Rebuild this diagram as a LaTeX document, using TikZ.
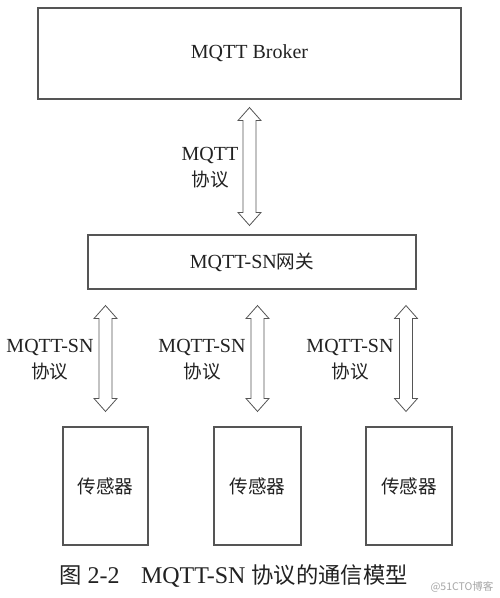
\documentclass[tikz,border=0pt]{standalone}
\usepackage{fontspec}
\setmainfont{Liberation Serif}
\newfontfamily\cjk{Noto Sans CJK SC}[Scale=0.93]
\newfontfamily\wmfont{Noto Sans CJK SC}
\usetikzlibrary{calc}
\definecolor{lc}{HTML}{555555}
\definecolor{tc}{HTML}{222222}
\tikzset{
  box/.style={draw=lc, line width=1.1pt, inner sep=0pt, text=tc, font=\fontsize{20}{24}\selectfont},
  harrow/.style={draw=lc, line width=0.8pt, fill=white, line join=miter},
  lbl/.style={align=center, text=tc, inner sep=0pt, font=\fontsize{20}{26}\selectfont},
}
\newcommand\dblarrow[2]{%
 \draw[harrow] let \p1=#1, \p2=#2 in
  (\x1,\y1) -- (\x1+11.5pt,\y1-13pt) -- (\x1+6.5pt,\y1-13pt) -- (\x1+6.5pt,\y2+13pt)
  -- (\x1+11.5pt,\y2+13pt) -- (\x1,\y2) -- (\x1-11.5pt,\y2+13pt) -- (\x1-6.5pt,\y2+13pt)
  -- (\x1-6.5pt,\y1-13pt) -- (\x1-11.5pt,\y1-13pt) -- cycle;}
\begin{document}
\begin{tikzpicture}[x=1pt,y=-1pt]
\useasboundingbox[fill=white] (0,0) rectangle (500,598);
% boxes
\node[box, minimum width=423pt, minimum height=91pt] (broker) at (249.5,53.5) {MQTT Broker};
\node[box, minimum width=328pt, minimum height=54pt] (gw) at (252,262) {MQTT-SN{\cjk 网关}};
\node[box, minimum width=85pt, minimum height=118pt] (s1) at (105.5,486) {\cjk 传感器};
\node[box, minimum width=87pt, minimum height=118pt] (s2) at (257.5,486) {\cjk 传感器};
\node[box, minimum width=86pt, minimum height=118pt] (s3) at (409,486) {\cjk 传感器};
% arrows
\coordinate (a0t) at ($(broker.south)+(0,8)$);
\coordinate (a0b) at (a0t |- gw.north);
\dblarrow{(a0t)}{($(a0b)+(0,-9)$)}
\coordinate (a1t) at ($(s1.north |- gw.south)+(0,16)$);
\coordinate (a2t) at ($(s2.north |- gw.south)+(0,16)$);
\coordinate (a3t) at ($(s3.north |- gw.south)+(-3,16)$);
\dblarrow{(a1t)}{($(s1.north)+(0,-15)$)}
\dblarrow{(a2t)}{($(s2.north)+(0,-15)$)}
\dblarrow{(a3t)}{($(s3.north)+(-3,-15)$)}
% labels
\node[lbl] (l0) at (210,168) {MQTT\\{\cjk 协议}};
\node[lbl] (l1) at (50,360) {MQTT-SN\\{\cjk 协议}};
\node[lbl] (l2) at (202,360) {MQTT-SN\\{\cjk 协议}};
\node[lbl] (l3) at (350,360) {MQTT-SN\\{\cjk 协议}};
% caption
\node[text=tc, inner sep=0pt, font=\fontsize{24}{28}\selectfont] (cap) at (233.5,576)
  {{\cjk 图} 2-2\hspace{0.9em}MQTT-SN {\cjk 协议的通信模型}};
\node[text=gray!70, inner sep=0pt, font=\wmfont\fontsize{10.5}{12}\selectfont] (wm) at (462,587) {@51CTO博客};
\end{tikzpicture}
\end{document}
